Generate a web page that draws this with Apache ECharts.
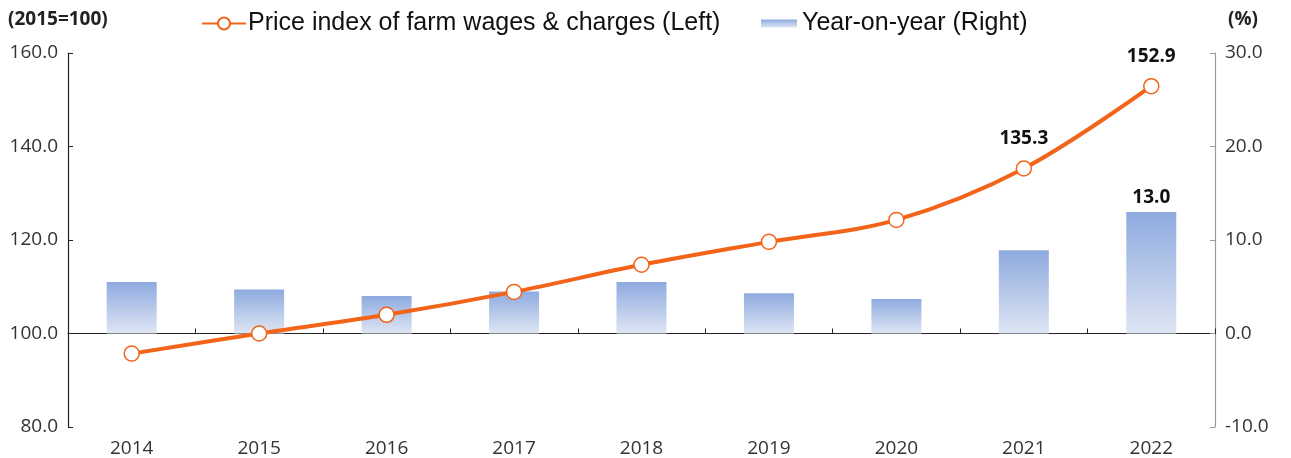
<!DOCTYPE html>
<html><head><meta charset="utf-8">
<script src="https://cdn.jsdelivr.net/npm/echarts@6/dist/echarts.min.js"></script>
<style>html,body{margin:0;padding:0;background:#fff}#c{width:1291px;height:458px}</style>
</head><body><div id="c"></div>
<script>
const categories = ['2014','2015','2016','2017','2018','2019','2020','2021','2022'];
const priceIndex = [95.7, 100.0, 104.0, 108.9, 114.7, 119.6, 124.3, 135.3, 152.9];
const yoy = [5.5, 4.7, 4.0, 4.5, 5.5, 4.3, 3.7, 8.9, 13.0];
const lineName = 'Price index of farm wages & charges (Left)';
const barName = 'Year-on-year (Right)';
const labelledLine = ['2021','2022'];
const labelledBar = ['2022'];

const chart = echarts.init(document.getElementById('c'));
const tickFont = 'Open Sans, Noto Sans, sans-serif';
const legFont = 'Liberation Sans, Arial, sans-serif';
chart.setOption({
  animation: false,
  grid: {left: 68, right: 76, top: 53, bottom: 30},
  legend: [
    {data: [lineName], left: 196, top: 6, itemWidth: 44, itemHeight: 15, itemGap: 10,
     textStyle: {fontSize: 25, color: '#111', fontFamily: legFont, padding: [0,0,0,-3]}},
    {data: [barName], left: 756, top: 6, itemWidth: 36, itemHeight: 8, icon: 'rect',
     textStyle: {fontSize: 25, color: '#111', fontFamily: legFont, padding: [0,0,0,0]}}
  ],
  xAxis: [
    {type: 'category', data: categories, position: 'bottom',
     axisLine: {show: false}, axisTick: {show: false},
     axisLabel: {fontSize: 19, color: '#333', fontFamily: tickFont, margin: 12}},
    {type: 'category', data: categories, position: 'bottom',
     axisLine: {show: true, onZero: true, onZeroAxisIndex: 1, lineStyle: {color: '#222', width: 1.2}},
     axisTick: {show: true, inside: true, length: 5, lineStyle: {color: '#222'}},
     axisLabel: {show: false}}
  ],
  yAxis: [
    {type: 'value', min: 80, max: 160, interval: 20, position: 'left',
     name: '(2015=100)', nameLocation: 'end', nameGap: 24,
     nameTextStyle: {fontSize: 19, fontWeight: 'bold', color: '#222', align: 'left', padding: [0,0,0,-60], fontFamily: tickFont},
     axisLine: {show: true, lineStyle: {color: '#222', width: 1.2}},
     axisTick: {show: true, inside: true, length: 5, lineStyle: {color: '#222'}},
     splitLine: {show: false},
     axisLabel: {fontSize: 19, color: '#333', fontFamily: tickFont, margin: 10, formatter: v => v.toFixed(1)}},
    {type: 'value', min: -10, max: 30, interval: 10, position: 'right',
     name: '(%)', nameLocation: 'end', nameGap: 24,
     nameTextStyle: {fontSize: 19, fontWeight: 'bold', color: '#222', align: 'left', padding: [0,0,0,13], fontFamily: tickFont},
     axisLine: {show: true, lineStyle: {color: '#999', width: 1.2}},
     axisTick: {show: true, inside: true, length: 5, lineStyle: {color: '#999'}},
     splitLine: {show: false},
     axisLabel: {fontSize: 19, color: '#333', fontFamily: tickFont, margin: 10, formatter: v => v.toFixed(1)}}
  ],
  series: [
    {name: barName, type: 'bar', xAxisIndex: 0, yAxisIndex: 1, barWidth: 50,
     data: yoy.map((v,i) => ({value: v, label: {show: labelledBar.includes(categories[i])}})),
     itemStyle: {color: new echarts.graphic.LinearGradient(0,0,0,1,[{offset:0,color:'#8eaadf'},{offset:1,color:'#dfe6f4'}])},
     label: {position: 'top', distance: 5, fontSize: 19, fontWeight: 'bold', color: '#111', fontFamily: tickFont, formatter: p => p.value.toFixed(1)},
     z: 1},
    {name: lineName, type: 'line', xAxisIndex: 0, yAxisIndex: 0, smooth: 0.35,
     data: priceIndex.map((v,i) => ({value: v, label: {show: labelledLine.includes(categories[i])}})),
     symbol: 'circle', symbolSize: 15,
     lineStyle: {color: '#f26419', width: 4},
     itemStyle: {color: '#ffffff', borderColor: '#f26419', borderWidth: 1.5},
     label: {position: 'top', distance: 12, fontSize: 19, fontWeight: 'bold', color: '#111', fontFamily: tickFont, formatter: p => p.value.toFixed(1)},
     z: 3}
  ]
});
</script></body></html>
